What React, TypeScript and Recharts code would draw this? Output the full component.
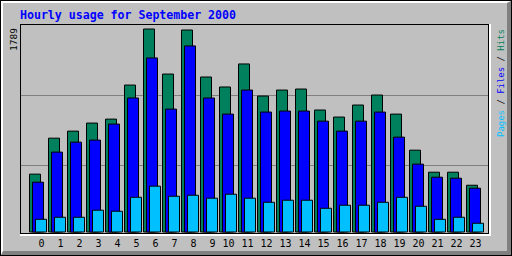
import React from 'react';
import { BarChart, Bar, XAxis, YAxis } from 'recharts';

const hours = ['0','1','2','3','4','5','6','7','8','9','10','11','12','13','14','15','16','17','18','19','20','21','22','23'];
const hits = [510, 827, 889, 960, 995, 1295, 1789, 1392, 1780, 1366, 1278, 1481, 1198, 1251, 1260, 1075, 1013, 1119, 1207, 1039, 721, 527, 527, 412];
const files = [439, 704, 792, 810, 951, 1181, 1534, 1083, 1640, 1181, 1039, 1251, 1057, 1066, 1066, 977, 889, 977, 1057, 836, 598, 483, 474, 386];
const pages = [112, 130, 130, 192, 183, 306, 404, 315, 324, 298, 333, 298, 262, 280, 280, 209, 236, 236, 262, 306, 227, 112, 130, 77];
const maxHits = 1789;

const data = hours.map((h, i) => ({ hour: h, hits: hits[i], files: files[i], pages: pages[i] }));

const MONO = '"DejaVu Sans Mono", "Liberation Mono", monospace';

function HourTick(props: any) {
  const { x, y, payload } = props;
  const label = String(payload.value);
  const shift = label.length === 1 ? 3.5 : 0.5;
  return (
    <text x={x + shift} y={y} dy="0.71em" textAnchor="middle" fontFamily={MONO} fontSize={10} fill="#000">
      {label}
    </text>
  );
}

export default function App() {
  return (
    <div style={{ position: 'fixed', left: 0, top: 0, width: 512, height: 256, background: '#C0C0C0', overflow: 'hidden' }}>
      {/* outer frame */}
      <div style={{ position: 'absolute', left: 0, top: 0, width: 512, height: 256, boxSizing: 'border-box', border: '1px solid #000' }} />
      <div
        style={{
          position: 'absolute', left: 1, top: 1, width: 510, height: 254, boxSizing: 'border-box',
          borderTop: '2px solid #fff', borderLeft: '2px solid #fff',
          borderRight: '4px solid #808080', borderBottom: '4px solid #808080',
        }}
      />
      {/* plot box */}
      <div style={{ position: 'absolute', left: 20, top: 24, width: 471, height: 212, boxSizing: 'border-box', borderRight: '2px solid #fff', borderBottom: '2px solid #fff' }} />
      <div style={{ position: 'absolute', left: 20, top: 24, width: 469, height: 210, boxSizing: 'border-box', border: '1px solid #000' }}>
        <div style={{ position: 'absolute', left: 0, right: 0, top: 70, height: 1, background: '#808080' }} />
        <div style={{ position: 'absolute', left: 0, right: 0, top: 140, height: 1, background: '#808080' }} />
      </div>

      <div style={{ position: 'absolute', left: 0, top: 0 }}>
        <BarChart
          width={512}
          height={256}
          data={data}
          margin={{ top: 29, right: 22, bottom: 0, left: 20 }}
          barSize={11}
          barGap={-8}
        >
          <XAxis
            dataKey="hour"
            height={24}
            axisLine={false}
            tickLine={false}
            interval={0}
            padding={{ left: 8.5, right: 5.5 }}
            tick={<HourTick />}
          />
          <YAxis hide domain={[0, maxHits]} />
          <Bar dataKey="hits" fill="#00805C" stroke="#000" strokeWidth={1} isAnimationActive={false} />
          <Bar dataKey="files" fill="#0000FF" stroke="#000" strokeWidth={1} isAnimationActive={false} />
          <Bar dataKey="pages" fill="#00C0FF" stroke="#000" strokeWidth={1} isAnimationActive={false} />
        </BarChart>
      </div>

      <svg width={512} height={256} style={{ position: 'absolute', left: 0, top: 0, pointerEvents: 'none' }}>
        <text x={20} y={19} fontFamily={MONO} fontWeight="bold" fontSize={11.6} fill="#0000FF" textLength={216} lengthAdjust="spacing">
          Hourly usage for September 2000
        </text>
        <text x={17} y={51} transform="rotate(-90 17 51)" fontFamily={MONO} fontSize={9.5} fill="#000">
          {String(maxHits)}
        </text>
        <text x={504} y={137} transform="rotate(-90 504 137)" fontFamily={MONO} fontSize={9} textLength={108} lengthAdjust="spacing">
          <tspan fill="#00C0FF">Pages</tspan>
          <tspan fill="#000"> / </tspan>
          <tspan fill="#0000FF">Files</tspan>
          <tspan fill="#000"> / </tspan>
          <tspan fill="#00805C">Hits</tspan>
        </text>
      </svg>
    </div>
  );
}
